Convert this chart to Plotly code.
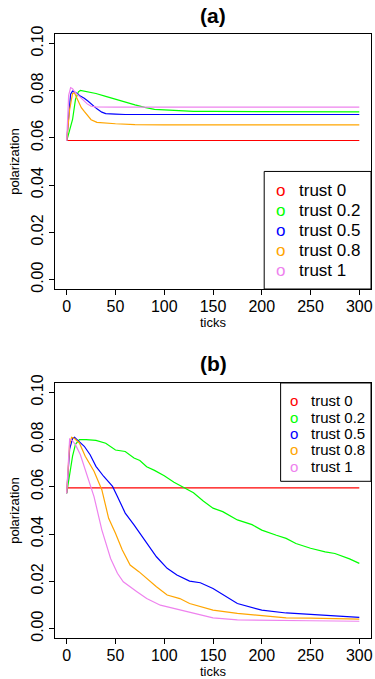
import plotly.graph_objects as go

FONT = "Liberation Sans, Arial, Helvetica, sans-serif"

# ---------------- data ----------------
series_names = ["trust 0", "trust 0.2", "trust 0.5", "trust 0.8", "trust 1"]
series_colors = ["#FF0000", "#00FF00", "#0000FF", "#FFA500", "#EE82EE"]

x_tick_vals = [0, 50, 100, 150, 200, 250, 300]
y_tick_vals = [0.00, 0.02, 0.04, 0.06, 0.08, 0.10]
y_tick_text = ["0.00", "0.02", "0.04", "0.06", "0.08", "0.10"]

# panel (a)
a_ticks_t0 = [0, 300]
a_pol_t0 = [0.0589, 0.0589]
a_ticks_t02 = [0, 3, 6, 9, 12, 14, 20, 30, 40, 50, 60, 70, 80, 90, 100, 120, 130, 150, 200, 300]
a_pol_t02 = [0.0587, 0.0630, 0.0678, 0.0763, 0.0795, 0.0801, 0.0797, 0.0788, 0.0776, 0.0763,
             0.0752, 0.0740, 0.0729, 0.0721, 0.0719, 0.0714, 0.0712, 0.0712, 0.0711, 0.0710]
a_ticks_t05 = [0, 2, 4, 6, 10, 14, 18, 22, 25, 31, 36, 40, 50, 60, 100, 300]
a_pol_t05 = [0.0587, 0.0700, 0.0785, 0.0798, 0.0790, 0.0777, 0.0768, 0.0755, 0.0743, 0.0723,
             0.0709, 0.0703, 0.0701, 0.0699, 0.0699, 0.0699]
a_ticks_t08 = [0, 3, 6, 8, 10, 13, 15, 18, 21, 25, 31, 40, 50, 70, 100, 300]
a_pol_t08 = [0.0587, 0.0720, 0.0788, 0.0790, 0.0772, 0.0749, 0.0728, 0.0712, 0.0695, 0.0677,
             0.0666, 0.0662, 0.0660, 0.0656, 0.0655, 0.0655]
a_ticks_t1 = [0, 2, 4, 6, 8, 11, 14, 18, 21, 25, 30, 50, 300]
a_pol_t1 = [0.0587, 0.0780, 0.0813, 0.0808, 0.0796, 0.0784, 0.0769, 0.0755, 0.0744, 0.0734,
            0.0731, 0.0730, 0.0730]

# panel (b)
b_ticks_t0 = [0, 300]
b_pol_t0 = [0.0596, 0.0596]
b_ticks_t02 = [0, 3, 6, 9, 13, 20, 30, 40, 50, 60, 69, 75, 82, 90, 100, 110, 120, 130, 140, 150,
               160, 175, 190, 200, 215, 225, 235, 250, 265, 275, 290, 300]
b_pol_t02 = [0.0573, 0.0650, 0.0730, 0.0780, 0.0800, 0.0800, 0.0797, 0.0785, 0.0756, 0.0750,
             0.0722, 0.0712, 0.0685, 0.0670, 0.0647, 0.0620, 0.0598, 0.0575, 0.0540, 0.0510,
             0.0495, 0.0460, 0.0440, 0.0417, 0.0395, 0.0382, 0.0360, 0.0340, 0.0325, 0.0318,
             0.0295, 0.0276]
b_ticks_t05 = [0, 3, 6, 8, 12, 18, 24, 30, 38, 47, 52, 60, 69, 75, 82, 92, 103, 113, 126, 137,
               150, 175, 200, 225, 250, 275, 300]
b_pol_t05 = [0.0573, 0.0760, 0.0805, 0.0810, 0.0795, 0.0772, 0.0736, 0.0687, 0.0644, 0.0602,
             0.0559, 0.0489, 0.0439, 0.0404, 0.0361, 0.0304, 0.0255, 0.0227, 0.0201, 0.0194,
             0.0170, 0.0106, 0.0078, 0.0066, 0.0060, 0.0053, 0.0047]
b_ticks_t08 = [0, 3, 5, 8, 13, 19, 28, 36, 43, 50, 57, 65, 74, 82, 92, 103, 116, 126, 140, 150,
               175, 200, 225, 250, 300]
b_pol_t08 = [0.0573, 0.0780, 0.0810, 0.0805, 0.0786, 0.0730, 0.0666, 0.0588, 0.0467, 0.0404,
             0.0333, 0.0269, 0.0241, 0.0212, 0.0177, 0.0142, 0.0127, 0.0106, 0.0090, 0.0078,
             0.0064, 0.0053, 0.0045, 0.0044, 0.0040]
b_ticks_t1 = [0, 2, 3, 6, 9, 14, 21, 28, 36, 45, 52, 58, 72, 82, 96, 110, 126, 150, 175, 200,
              250, 300]
b_pol_t1 = [0.0573, 0.0770, 0.0803, 0.0795, 0.0779, 0.0736, 0.0651, 0.0559, 0.0418, 0.0297,
            0.0234, 0.0198, 0.0156, 0.0127, 0.0099, 0.0085, 0.0067, 0.0045, 0.0037, 0.0035,
            0.0033, 0.0031]

panel_a = [(a_ticks_t0, a_pol_t0), (a_ticks_t02, a_pol_t02), (a_ticks_t05, a_pol_t05),
           (a_ticks_t08, a_pol_t08), (a_ticks_t1, a_pol_t1)]
panel_b = [(b_ticks_t0, b_pol_t0), (b_ticks_t02, b_pol_t02), (b_ticks_t05, b_pol_t05),
           (b_ticks_t08, b_pol_t08), (b_ticks_t1, b_pol_t1)]

# ---------------- figure ----------------
fig = go.Figure()

for (xs, ys), name, color in zip(panel_a, series_names, series_colors):
    fig.add_trace(go.Scatter(x=xs, y=ys, mode="lines", name=name, showlegend=False,
                             line=dict(color=color, width=1.2), xaxis="x", yaxis="y"))
for (xs, ys), name, color in zip(panel_b, series_names, series_colors):
    fig.add_trace(go.Scatter(x=xs, y=ys, mode="lines", name=name, showlegend=False,
                             line=dict(color=color, width=1.2), xaxis="x2", yaxis="y2"))

axis_common = dict(
    showline=True, mirror=True, linecolor="black", linewidth=1,
    ticks="outside", ticklen=5, tickwidth=1, tickcolor="black",
    showgrid=False, zeroline=False, automargin=False,
    tickfont=dict(family=FONT, size=16, color="black"),
)

xaxis_common = dict(axis_common, range=[-12, 312], tickmode="array", tickvals=x_tick_vals,
                    ticktext=[str(v) for v in x_tick_vals], ticklabelstandoff=-2,
                    title=dict(text="ticks", font=dict(family=FONT, size=13, color="black"),
                               standoff=0))
yaxis_common = dict(axis_common, range=[-0.004, 0.104], tickmode="array", tickvals=y_tick_vals,
                    ticktext=y_tick_text, tickangle=-90,
                    title=dict(text="polarization", font=dict(family=FONT, size=13, color="black"),
                               standoff=6))

dom_a = [0.5778, 1.0]
dom_b = [0.0, 0.4222]

annotations = []
shapes = []

# panel titles
for label, xref, yref in [("(a)", "x domain", "y domain"), ("(b)", "x2 domain", "y2 domain")]:
    annotations.append(dict(text="<b>%s</b>" % label, xref=xref, yref=yref, x=0.5, y=1,
                            yshift=19, xanchor="center", yanchor="middle", showarrow=False,
                            font=dict(family=FONT, size=21, color="black")))

# legends
legend_specs = [
    # xref, yref, box x0, box y0, box y1, marker x, text x, first y, step, font size
    ("x domain", "y domain", 0.662, 0.0, 0.461, 0.714, 0.767, 0.3855, 0.0784, 17),
    ("x2 domain", "y2 domain", 0.714, 0.6145, 1.0, 0.7565, 0.804, 0.9306, 0.0643, 15),
]
for xref, yref, bx0, by0, by1, mx, tx, fy, step, fs in legend_specs:
    shapes.append(dict(type="rect", xref=xref, yref=yref, x0=bx0, x1=1, y0=by0, y1=by1,
                       line=dict(color="black", width=1), fillcolor="white", layer="above"))
    for i, (name, color) in enumerate(zip(series_names, series_colors)):
        yy = fy - i * step
        annotations.append(dict(text="o", xref=xref, yref=yref, x=mx, y=yy, xanchor="center",
                                yanchor="middle", showarrow=False,
                                font=dict(family=FONT, size=fs, color=color)))
        annotations.append(dict(text=name, xref=xref, yref=yref, x=tx, y=yy, xanchor="left",
                                yanchor="middle", showarrow=False,
                                font=dict(family=FONT, size=fs, color="black")))

fig.update_layout(
    template="none",
    width=375, height=679,
    margin=dict(l=55, r=4, t=34, b=41),
    paper_bgcolor="white", plot_bgcolor="white",
    showlegend=False,
    font=dict(family=FONT, color="black"),
    xaxis=dict(xaxis_common, domain=[0, 1], anchor="y"),
    yaxis=dict(yaxis_common, domain=dom_a, anchor="x"),
    xaxis2=dict(xaxis_common, domain=[0, 1], anchor="y2"),
    yaxis2=dict(yaxis_common, domain=dom_b, anchor="x2"),
    annotations=annotations,
    shapes=shapes,
)

# remove the default 8px page margin so the 375x679 figure fills the window exactly
fig.write_html("out.html",
               config={"displayModeBar": False},
               post_script="document.body.style.margin='0';document.body.style.overflow='hidden';")
